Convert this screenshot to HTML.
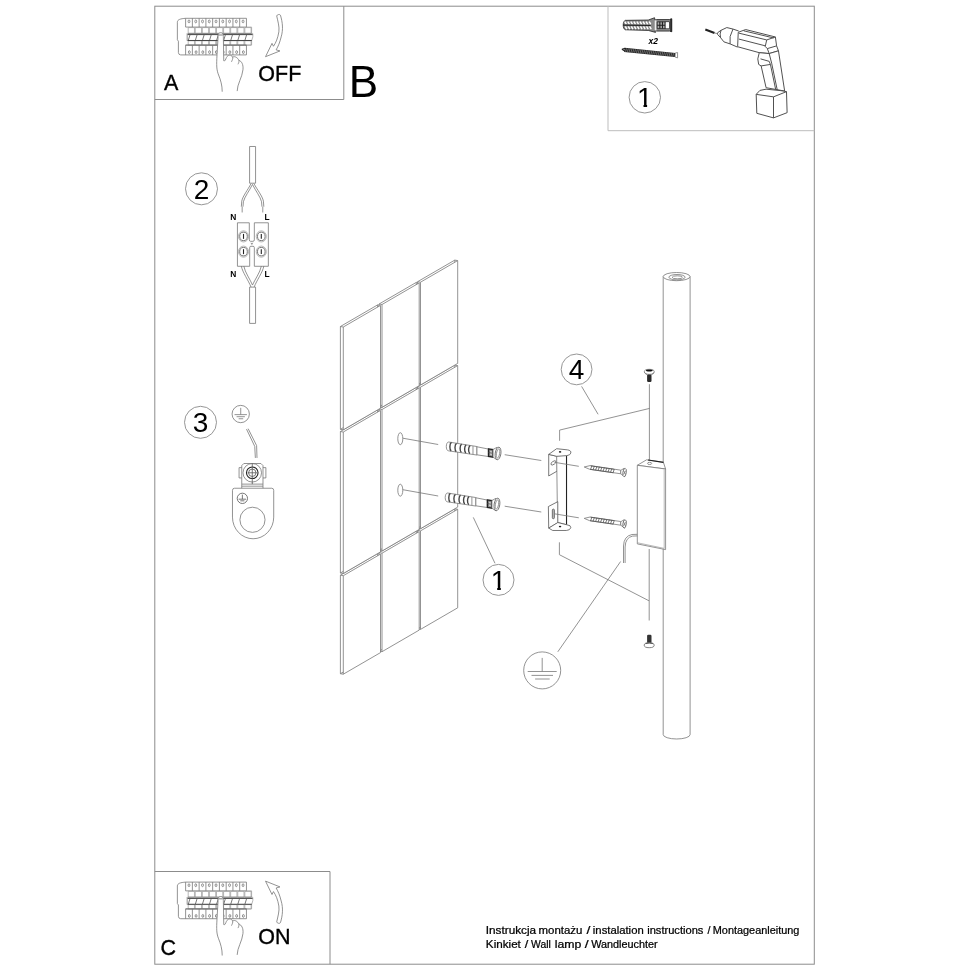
<!DOCTYPE html>
<html><head><meta charset="utf-8"><title>Instrukcja</title>
<style>
html,body{margin:0;padding:0;background:#fff}
svg{display:block;will-change:transform}
text{font-family:"Liberation Sans",Arial,Helvetica,sans-serif;fill:#000}
.b{stroke:#000;stroke-width:.35}
.ft{stroke:#000;stroke-width:.22}
.f{fill:none;stroke:#8c8c8c;stroke-width:1}
.f2{fill:none;stroke:#bdbdbd;stroke-width:1}
.c{fill:none;stroke:#8a8a8a;stroke-width:.9}
.m{fill:none;stroke:#777;stroke-width:.8;vector-effect:non-scaling-stroke}
.t{fill:none;stroke:#999;stroke-width:.7;vector-effect:non-scaling-stroke}
.d{fill:none;stroke:#555;stroke-width:.8;vector-effect:non-scaling-stroke}
.dd{fill:none;stroke:#484848;stroke-width:.95;vector-effect:non-scaling-stroke;stroke-linejoin:round}
.k{fill:none;stroke:#222;stroke-width:1.1;vector-effect:non-scaling-stroke}
.tl{fill:none;stroke:#777;stroke-width:.8;stroke-linejoin:round}
</style></head><body>
<svg width="970" height="971" viewBox="0 0 970 971">
<rect width="970" height="971" fill="#fff"/>
<rect class="f" x="154.8" y="6.2" width="659.5" height="958"/>
<path class="f" d="M154.8,99.5 L343.8,99.5 L343.8,6.2"/>
<path class="f2" d="M608,6.2 L608,130.7 L814.3,130.7"/>
<path class="f" d="M154.8,871.5 L330,871.5 L330,964.2"/>
<g transform="translate(165,8) scale(0.103093) "><path class="m" d="M200,100 C150,104 120,112 120,138 L120,308 L130,322 L130,432 Q132,455 152,455 L790,455"/><path class="m" d="M200,100 L790,100 L790,185 M200,100 L200,185 L790,185"/><path class="m" d="M265.6,100 L265.6,185"/><path class="m" d="M331.1,100 L331.1,185"/><path class="m" d="M396.7,100 L396.7,185"/><path class="m" d="M462.2,100 L462.2,185"/><path class="m" d="M527.8,100 L527.8,185"/><path class="m" d="M593.3,100 L593.3,185"/><path class="m" d="M658.9,100 L658.9,185"/><path class="m" d="M724.4,100 L724.4,185"/><ellipse class="m" cx="232.8" cy="130" rx="9" ry="14"/><ellipse class="m" cx="235.8" cy="428" rx="9" ry="14"/><ellipse class="m" cx="298.3" cy="130" rx="9" ry="14"/><ellipse class="m" cx="301.3" cy="428" rx="9" ry="14"/><ellipse class="m" cx="363.9" cy="130" rx="9" ry="14"/><ellipse class="m" cx="366.9" cy="428" rx="9" ry="14"/><ellipse class="m" cx="429.4" cy="130" rx="9" ry="14"/><ellipse class="m" cx="432.4" cy="428" rx="9" ry="14"/><ellipse class="m" cx="495.0" cy="130" rx="9" ry="14"/><ellipse class="m" cx="498.0" cy="428" rx="9" ry="14"/><ellipse class="m" cx="560.6" cy="130" rx="9" ry="14"/><ellipse class="m" cx="563.6" cy="428" rx="9" ry="14"/><ellipse class="m" cx="626.1" cy="130" rx="9" ry="14"/><ellipse class="m" cx="629.1" cy="428" rx="9" ry="14"/><ellipse class="m" cx="691.7" cy="130" rx="9" ry="14"/><ellipse class="m" cx="694.7" cy="428" rx="9" ry="14"/><ellipse class="m" cx="757.2" cy="130" rx="9" ry="14"/><ellipse class="m" cx="760.2" cy="428" rx="9" ry="14"/><rect class="t" x="225.0" y="190" width="60.7" height="55"/><rect class="t" x="225.0" y="318" width="60.7" height="42"/><path class="d" d="M242.0,262 L226.0,313"/><rect class="t" x="293.7" y="190" width="60.7" height="55"/><rect class="t" x="293.7" y="318" width="60.7" height="42"/><path class="d" d="M310.7,262 L294.7,313"/><rect class="t" x="362.3" y="190" width="60.7" height="55"/><rect class="t" x="362.3" y="318" width="60.7" height="42"/><path class="d" d="M379.3,262 L363.3,313"/><rect class="t" x="431.0" y="190" width="60.7" height="55"/><rect class="t" x="431.0" y="318" width="60.7" height="42"/><path class="d" d="M448.0,262 L432.0,313"/><rect class="t" x="499.7" y="190" width="60.7" height="55"/><rect class="t" x="499.7" y="318" width="60.7" height="42"/><path class="d" d="M516.7,262 L500.7,313"/><rect class="t" x="568.3" y="190" width="60.7" height="55"/><rect class="t" x="568.3" y="318" width="60.7" height="42"/><path class="d" d="M585.3,262 L569.3,313"/><rect class="t" x="637.0" y="190" width="60.7" height="55"/><rect class="t" x="637.0" y="318" width="60.7" height="42"/><path class="d" d="M654.0,262 L638.0,313"/><rect class="t" x="705.7" y="190" width="60.7" height="55"/><rect class="t" x="705.7" y="318" width="60.7" height="42"/><path class="d" d="M722.7,262 L706.7,313"/><rect class="t" x="774.3" y="190" width="60.7" height="55"/><rect class="t" x="774.3" y="318" width="60.7" height="42"/><path class="d" d="M791.3,262 L775.3,313"/><path class="t" d="M790,185 L840,185 L840,245 L852,248 L852,280 L840,318 L840,360 L790,360"/><path class="d" style="stroke:#444;stroke-width:1" d="M218,258 L850,258 M218,315 L842,315"/><path class="d" d="M200,360 L790,360"/><path class="m" d="M215,245 L215,318 M222,247 L842,247"/><path class="m" d="M200,360 L790,360 L790,455 M200,360 L200,455"/><path class="m" d="M265.6,360 L265.6,455"/><path class="m" d="M331.1,360 L331.1,455"/><path class="m" d="M396.7,360 L396.7,455"/><path class="m" d="M462.2,360 L462.2,455"/><path class="m" d="M527.8,360 L527.8,455"/><path class="m" d="M593.3,360 L593.3,455"/><path class="m" d="M658.9,360 L658.9,455"/><path class="m" d="M724.4,360 L724.4,455"/><path style="fill:#fff;stroke:none" d="M515,278 C512,250 525,240 540,240 C555,240 568,250 566,278 L570,512 C582,520 588,498 596,480 C610,452 642,450 656,476 C680,464 706,484 716,506 C742,516 762,546 756,600 C750,670 700,740 700,806 L555,812 C555,750 540,700 520,650 C500,600 498,560 505,450 Z"/><path class="m" d="M515,278 C512,250 525,240 540,240 C555,240 568,250 566,278 L570,512"/><path class="m" d="M515,278 L505,450 C498,560 500,600 520,650 C540,700 555,750 555,812"/><path class="m" d="M570,512 C582,520 588,498 596,480 C610,452 642,450 656,476 C662,488 650,510 645,522"/><path class="m" d="M656,476 C680,464 706,484 716,506 C722,520 712,536 708,546"/><path class="m" d="M716,506 C742,516 762,546 756,600 C750,670 700,740 700,806"/><path class="d" d="M520,262 L560,262"/></g>

<g transform="translate(250,8) scale(0.072166) "><path class="m" d="M370,110 C375,88 415,84 422,100 C452,200 462,300 432,400 C412,480 392,530 362,580 L415,595 L215,675 L305,490 L325,530 C360,480 385,420 400,330 C410,260 385,180 370,110 Z"/></g>

<text x="164.1" y="90.2" font-size="21.5" class="b">A</text>
<text x="258.3" y="80.7" font-size="21.5" class="b">OFF</text>
<text x="348.7" y="96.9" font-size="44">B</text>
<g transform="translate(165,871.8) scale(0.103093) "><path class="m" d="M200,100 C150,104 120,112 120,138 L120,308 L130,322 L130,432 Q132,455 152,455 L790,455"/><path class="m" d="M200,100 L790,100 L790,185 M200,100 L200,185 L790,185"/><path class="m" d="M265.6,100 L265.6,185"/><path class="m" d="M331.1,100 L331.1,185"/><path class="m" d="M396.7,100 L396.7,185"/><path class="m" d="M462.2,100 L462.2,185"/><path class="m" d="M527.8,100 L527.8,185"/><path class="m" d="M593.3,100 L593.3,185"/><path class="m" d="M658.9,100 L658.9,185"/><path class="m" d="M724.4,100 L724.4,185"/><ellipse class="m" cx="232.8" cy="130" rx="9" ry="14"/><ellipse class="m" cx="235.8" cy="428" rx="9" ry="14"/><ellipse class="m" cx="298.3" cy="130" rx="9" ry="14"/><ellipse class="m" cx="301.3" cy="428" rx="9" ry="14"/><ellipse class="m" cx="363.9" cy="130" rx="9" ry="14"/><ellipse class="m" cx="366.9" cy="428" rx="9" ry="14"/><ellipse class="m" cx="429.4" cy="130" rx="9" ry="14"/><ellipse class="m" cx="432.4" cy="428" rx="9" ry="14"/><ellipse class="m" cx="495.0" cy="130" rx="9" ry="14"/><ellipse class="m" cx="498.0" cy="428" rx="9" ry="14"/><ellipse class="m" cx="560.6" cy="130" rx="9" ry="14"/><ellipse class="m" cx="563.6" cy="428" rx="9" ry="14"/><ellipse class="m" cx="626.1" cy="130" rx="9" ry="14"/><ellipse class="m" cx="629.1" cy="428" rx="9" ry="14"/><ellipse class="m" cx="691.7" cy="130" rx="9" ry="14"/><ellipse class="m" cx="694.7" cy="428" rx="9" ry="14"/><ellipse class="m" cx="757.2" cy="130" rx="9" ry="14"/><ellipse class="m" cx="760.2" cy="428" rx="9" ry="14"/><rect class="t" x="225.0" y="190" width="60.7" height="55"/><rect class="t" x="225.0" y="318" width="60.7" height="42"/><path class="d" d="M242.0,262 L226.0,313"/><rect class="t" x="293.7" y="190" width="60.7" height="55"/><rect class="t" x="293.7" y="318" width="60.7" height="42"/><path class="d" d="M310.7,262 L294.7,313"/><rect class="t" x="362.3" y="190" width="60.7" height="55"/><rect class="t" x="362.3" y="318" width="60.7" height="42"/><path class="d" d="M379.3,262 L363.3,313"/><rect class="t" x="431.0" y="190" width="60.7" height="55"/><rect class="t" x="431.0" y="318" width="60.7" height="42"/><path class="d" d="M448.0,262 L432.0,313"/><rect class="t" x="499.7" y="190" width="60.7" height="55"/><rect class="t" x="499.7" y="318" width="60.7" height="42"/><path class="d" d="M516.7,262 L500.7,313"/><rect class="t" x="568.3" y="190" width="60.7" height="55"/><rect class="t" x="568.3" y="318" width="60.7" height="42"/><path class="d" d="M585.3,262 L569.3,313"/><rect class="t" x="637.0" y="190" width="60.7" height="55"/><rect class="t" x="637.0" y="318" width="60.7" height="42"/><path class="d" d="M654.0,262 L638.0,313"/><rect class="t" x="705.7" y="190" width="60.7" height="55"/><rect class="t" x="705.7" y="318" width="60.7" height="42"/><path class="d" d="M722.7,262 L706.7,313"/><rect class="t" x="774.3" y="190" width="60.7" height="55"/><rect class="t" x="774.3" y="318" width="60.7" height="42"/><path class="d" d="M791.3,262 L775.3,313"/><path class="t" d="M790,185 L840,185 L840,245 L852,248 L852,280 L840,318 L840,360 L790,360"/><path class="d" style="stroke:#444;stroke-width:1" d="M218,258 L850,258 M218,315 L842,315"/><path class="d" d="M200,360 L790,360"/><path class="m" d="M215,245 L215,318 M222,247 L842,247"/><path class="m" d="M200,360 L790,360 L790,455 M200,360 L200,455"/><path class="m" d="M265.6,360 L265.6,455"/><path class="m" d="M331.1,360 L331.1,455"/><path class="m" d="M396.7,360 L396.7,455"/><path class="m" d="M462.2,360 L462.2,455"/><path class="m" d="M527.8,360 L527.8,455"/><path class="m" d="M593.3,360 L593.3,455"/><path class="m" d="M658.9,360 L658.9,455"/><path class="m" d="M724.4,360 L724.4,455"/><path style="fill:#fff;stroke:none" d="M515,278 C512,250 525,240 540,240 C555,240 568,250 566,278 L570,512 C582,520 588,498 596,480 C610,452 642,450 656,476 C680,464 706,484 716,506 C742,516 762,546 756,600 C750,670 700,740 700,806 L555,812 C555,750 540,700 520,650 C500,600 498,560 505,450 Z"/><path class="m" d="M515,278 C512,250 525,240 540,240 C555,240 568,250 566,278 L570,512"/><path class="m" d="M515,278 L505,450 C498,560 500,600 520,650 C540,700 555,750 555,812"/><path class="m" d="M570,512 C582,520 588,498 596,480 C610,452 642,450 656,476 C662,488 650,510 645,522"/><path class="m" d="M656,476 C680,464 706,484 716,506 C722,520 712,536 708,546"/><path class="m" d="M716,506 C742,516 762,546 756,600 C750,670 700,740 700,806"/><path class="d" d="M520,262 L560,262"/></g>

<g transform="translate(250,875) scale(0.072166) translate(0,760) scale(1,-1)"><path class="m" d="M370,110 C375,88 415,84 422,100 C452,200 462,300 432,400 C412,480 392,530 362,580 L415,595 L215,675 L305,490 L325,530 C360,480 385,420 400,330 C410,260 385,180 370,110 Z"/></g>

<text x="160.6" y="954.9" font-size="21.5" class="b">C</text>
<text x="258.3" y="944.3" font-size="21.5" class="b">ON</text>
<text y="933.7" font-size="10" class="ft"><tspan x="485.76" textLength="50.37" lengthAdjust="spacingAndGlyphs">Instrukcja</tspan> <tspan x="538.54" textLength="43.81" lengthAdjust="spacingAndGlyphs">montażu</tspan> <tspan x="586.55" textLength="3.85" lengthAdjust="spacingAndGlyphs">/</tspan> <tspan x="592.87" textLength="50.83" lengthAdjust="spacingAndGlyphs">instalation</tspan> <tspan x="647.20" textLength="56.20" lengthAdjust="spacingAndGlyphs">instructions</tspan> <tspan x="707.50" textLength="2.95" lengthAdjust="spacingAndGlyphs">/</tspan> <tspan x="712.80" textLength="86.60" lengthAdjust="spacingAndGlyphs">Montageanleitung</tspan></text>
<text y="948.4" font-size="10" class="ft"><tspan x="485.86" textLength="35.00" lengthAdjust="spacingAndGlyphs">Kinkiet</tspan> <tspan x="524.70" textLength="3.50" lengthAdjust="spacingAndGlyphs">/</tspan> <tspan x="531.07" textLength="19.73" lengthAdjust="spacingAndGlyphs">Wall</tspan> <tspan x="554.66" textLength="26.61" lengthAdjust="spacingAndGlyphs">lamp</tspan> <tspan x="584.80" textLength="3.86" lengthAdjust="spacingAndGlyphs">/</tspan> <tspan x="591.20" textLength="66.50" lengthAdjust="spacingAndGlyphs">Wandleuchter</tspan></text>
<g transform="translate(612,8) scale(0.082474) "><path style="fill:#8a8a8a;stroke:#222" class="m" d="M160,150 C128,165 128,250 160,264 L440,272 L528,296 L520,276 L541,280 L700,280 L725,288 L725,130 L700,140 L541,140 L520,146 L516,118 L440,146 Z"/><path style="stroke:#fff;stroke-width:1.5;fill:none;vector-effect:non-scaling-stroke;stroke-linecap:round" d="M158,170 L170,190 M164,230 L176,250"/><path style="stroke:#fff;stroke-width:1.5;fill:none;vector-effect:non-scaling-stroke;stroke-linecap:round" d="M195,170 L207,190 M201,230 L213,250"/><path style="stroke:#fff;stroke-width:1.5;fill:none;vector-effect:non-scaling-stroke;stroke-linecap:round" d="M232,170 L244,190 M238,230 L250,250"/><path style="stroke:#fff;stroke-width:1.5;fill:none;vector-effect:non-scaling-stroke;stroke-linecap:round" d="M269,170 L281,190 M275,230 L287,250"/><path style="stroke:#fff;stroke-width:1.5;fill:none;vector-effect:non-scaling-stroke;stroke-linecap:round" d="M306,170 L318,190 M312,230 L324,250"/><path style="stroke:#fff;stroke-width:1.5;fill:none;vector-effect:non-scaling-stroke;stroke-linecap:round" d="M343,170 L355,190 M349,230 L361,250"/><path style="stroke:#fff;stroke-width:1.5;fill:none;vector-effect:non-scaling-stroke;stroke-linecap:round" d="M380,170 L392,190 M386,230 L398,250"/><path style="stroke:#fff;stroke-width:1.5;fill:none;vector-effect:non-scaling-stroke;stroke-linecap:round" d="M417,170 L429,190 M423,230 L435,250"/><path style="stroke:#fff;stroke-width:1.5;fill:none;vector-effect:non-scaling-stroke;stroke-linecap:round" d="M454,170 L466,190 M460,230 L472,250"/><path class="k" d="M135,208 L470,212"/><rect x="518" y="150" width="20" height="122" style="fill:#eee;stroke:none"/><rect x="548" y="168" width="148" height="82" style="fill:#aaa;stroke:#222" class="m"/><path class="k" d="M580,168 L580,250 M612,168 L612,250 M644,168 L644,250 M548,209 L650,209"/><rect x="652" y="172" width="40" height="74" style="fill:#fff;stroke:none"/><path style="stroke:#222;stroke-width:1.6;fill:none;vector-effect:non-scaling-stroke" d="M716,130 L716,288"/></g>

<text x="653.2" y="44.4" font-size="8.5" font-weight="bold" font-style="italic" text-anchor="middle">x2</text>
<g transform="translate(612,8) scale(0.082474) "><path style="stroke:#222;stroke-width:4.2;fill:none;vector-effect:non-scaling-stroke" d="M150,507 L765,570"/><path class="k" d="M120,500 L160,488 M120,500 L155,522"/><path class="m" style="fill:#fff" d="M768,545 L795,540 L795,605 L765,595 Z"/><path style="stroke:#bbb;stroke-width:.5;fill:none;vector-effect:non-scaling-stroke" d="M176,490 L164,530"/><path style="stroke:#bbb;stroke-width:.5;fill:none;vector-effect:non-scaling-stroke" d="M198,492 L186,532"/><path style="stroke:#bbb;stroke-width:.5;fill:none;vector-effect:non-scaling-stroke" d="M220,494 L208,534"/><path style="stroke:#bbb;stroke-width:.5;fill:none;vector-effect:non-scaling-stroke" d="M242,497 L230,537"/><path style="stroke:#bbb;stroke-width:.5;fill:none;vector-effect:non-scaling-stroke" d="M264,499 L252,539"/><path style="stroke:#bbb;stroke-width:.5;fill:none;vector-effect:non-scaling-stroke" d="M286,501 L274,541"/><path style="stroke:#bbb;stroke-width:.5;fill:none;vector-effect:non-scaling-stroke" d="M308,503 L296,543"/><path style="stroke:#bbb;stroke-width:.5;fill:none;vector-effect:non-scaling-stroke" d="M330,505 L318,545"/><path style="stroke:#bbb;stroke-width:.5;fill:none;vector-effect:non-scaling-stroke" d="M352,508 L340,548"/><path style="stroke:#bbb;stroke-width:.5;fill:none;vector-effect:non-scaling-stroke" d="M374,510 L362,550"/><path style="stroke:#bbb;stroke-width:.5;fill:none;vector-effect:non-scaling-stroke" d="M396,512 L384,552"/><path style="stroke:#bbb;stroke-width:.5;fill:none;vector-effect:non-scaling-stroke" d="M418,514 L406,554"/><path style="stroke:#bbb;stroke-width:.5;fill:none;vector-effect:non-scaling-stroke" d="M440,516 L428,556"/><path style="stroke:#bbb;stroke-width:.5;fill:none;vector-effect:non-scaling-stroke" d="M462,519 L450,559"/><path style="stroke:#bbb;stroke-width:.5;fill:none;vector-effect:non-scaling-stroke" d="M484,521 L472,561"/><path style="stroke:#bbb;stroke-width:.5;fill:none;vector-effect:non-scaling-stroke" d="M506,523 L494,563"/><path style="stroke:#bbb;stroke-width:.5;fill:none;vector-effect:non-scaling-stroke" d="M528,525 L516,565"/><path style="stroke:#bbb;stroke-width:.5;fill:none;vector-effect:non-scaling-stroke" d="M550,527 L538,567"/><path style="stroke:#bbb;stroke-width:.5;fill:none;vector-effect:non-scaling-stroke" d="M572,530 L560,570"/><path style="stroke:#bbb;stroke-width:.5;fill:none;vector-effect:non-scaling-stroke" d="M594,532 L582,572"/><path style="stroke:#bbb;stroke-width:.5;fill:none;vector-effect:non-scaling-stroke" d="M616,534 L604,574"/><path style="stroke:#bbb;stroke-width:.5;fill:none;vector-effect:non-scaling-stroke" d="M638,536 L626,576"/><path style="stroke:#bbb;stroke-width:.5;fill:none;vector-effect:non-scaling-stroke" d="M660,538 L648,578"/><path style="stroke:#bbb;stroke-width:.5;fill:none;vector-effect:non-scaling-stroke" d="M682,541 L670,581"/><path style="stroke:#bbb;stroke-width:.5;fill:none;vector-effect:non-scaling-stroke" d="M704,543 L692,583"/><path style="stroke:#bbb;stroke-width:.5;fill:none;vector-effect:non-scaling-stroke" d="M726,545 L714,585"/><path style="stroke:#bbb;stroke-width:.5;fill:none;vector-effect:non-scaling-stroke" d="M748,547 L736,587"/></g>

<circle class="c" cx="644.8" cy="97.3" r="15.7"/>
<text x="644.8" y="107" font-size="28" text-anchor="middle">1</text>
<rect x="637.5" y="104.2" width="6" height="3.8" fill="#fff"/>
<rect x="647.1" y="104.2" width="6" height="3.8" fill="#fff"/>
<g transform="translate(690,10) scale(0.123716) "><path style="stroke:#222;stroke-width:2.1;fill:none;vector-effect:non-scaling-stroke" d="M124,157.5 L198,186"/><path class="m" d="M198,186 L224,191"/><path class="dd" d="M224,183 L251,164 L297.5,142 L347.5,154 L394,170 M224,199 L247.5,224 L274,257.5 L324,274 L384,300 M251,164 Q237,194 247.5,224 M347.5,154 Q313,214 324,274 M224,183 Q220,191 224,199"/><path class="dd" style="fill:#fff" d="M390,180 L450,158 L690,218 L700,290 L715,330 L640,352 L560,345 L385,297 Z"/><path class="dd" d="M395,187 L620,242 L690,218 M620,242 L608,295 L625,312 L640,352 M625,312 L700,290 M395,235 L610,290 M434,168 L676,226"/><path class="dd" style="fill:#fff" d="M560,345 L548,395 L555,440 L575,452 L615,628 L765,655 L715,330 L640,352 Z"/><path class="dd" d="M570,395 L640,415 L650,440 L575,452 M650,440 L692,640 M640,352 L660,430 L705,645"/><path class="dd" style="fill:#fff" d="M535,682 L565,650 L615,640 L735,652 L780,660 L785,830 L675,872 L540,835 Z"/><path class="dd" d="M535,682 L675,702 L780,660 M675,702 L675,872"/></g>

<g transform="translate(150,130) scale(0.206186) "><rect class="m" x="483" y="80" width="29" height="178"/><path class="m" d="M490,260 C475,290 450,320 445,345 L443,372 M497,264 C482,295 458,325 453,348 L451,372 M447,372 L447,400"/><path class="m" d="M504,260 C520,290 545,320 550,345 L552,372 M497,264 C512,295 536,325 541,348 L543,372 M547,372 L547,400"/><path class="m" d="M424,450 L481.6,450 L481.6,533 Q482,540 488,540 L499,540 Q506,540 506,533 L506,450 L574,450 L574,661 L506,661 L506,570 Q506,564 500,564 L489,564 Q483.5,564 483.5,570 L483.5,661 L424,661 Z"/><path class="m" d="M490,547 L494,555 L498,547"/><ellipse class="t" cx="453.5" cy="516" rx="24.5" ry="27"/><ellipse class="d" cx="453.5" cy="516" rx="18.5" ry="20.5"/><path class="k" d="M453.5,504 L453.5,528"/><ellipse class="t" cx="453.5" cy="590" rx="24.5" ry="27"/><ellipse class="d" cx="453.5" cy="590" rx="18.5" ry="20.5"/><path class="k" d="M453.5,578 L453.5,602"/><ellipse class="t" cx="539.8" cy="516" rx="24.5" ry="27"/><ellipse class="d" cx="539.8" cy="516" rx="18.5" ry="20.5"/><path class="k" d="M539.8,504 L539.8,528"/><ellipse class="t" cx="539.8" cy="590" rx="24.5" ry="27"/><ellipse class="d" cx="539.8" cy="590" rx="18.5" ry="20.5"/><path class="k" d="M539.8,578 L539.8,602"/><path class="m" d="M443,660 C448,690 478,730 490,762 M455,660 C460,690 488,728 497,752 M552,660 C547,690 517,730 505,762 M540,660 C535,690 507,728 497,752"/><rect class="m" x="483" y="762" width="29" height="176"/></g>

<circle class="c" cx="201.5" cy="188.8" r="16"/>
<text x="201.5" y="198.8" font-size="28" text-anchor="middle">2</text>
<text x="230.3" y="220.3" font-size="8.4" font-weight="bold">N</text>
<text x="264.6" y="220.3" font-size="8.4" font-weight="bold">L</text>
<text x="230.3" y="276.6" font-size="8.4" font-weight="bold">N</text>
<text x="264.6" y="276.6" font-size="8.4" font-weight="bold">L</text>
<g transform="translate(150,380) scale(0.206186) "><circle class="m" cx="440" cy="165" r="42"/><path class="m" d="M440,135 L440,168 M410,168 L470,168 M420,178 L460,178 M430,188 L452,188"/><path class="m" d="M468,238 L508,322 L511,378 M476,236 L517,318 L519,378"/><path class="m" d="M455,405 L538,405 L548,415 L548,505 L445,505 L445,415 Z M432,425 L445,425 M432,475 L445,475 M432,425 L432,475 M548,425 L562,425 L562,475 L548,475"/><circle class="m" cx="496" cy="450" r="45"/><circle class="k" cx="496" cy="450" r="28"/><circle class="d" cx="496" cy="450" r="18"/><path class="d" d="M496,405 L496,505 M474,450 L518,450"/><path class="m" d="M445,515 L548,515 M445,505 L445,525 M548,505 L548,525"/><path class="m" d="M400,535 Q400,525 410,525 L590,525 Q600,525 600,535 L600,665 A100,105 0 0 1 400,665 Z"/><circle class="m" cx="497" cy="678" r="61"/><circle class="d" cx="448" cy="574" r="25"/><path class="d" d="M448,556 L448,578 M430,578 L466,578 M438,586 L458,586"/></g>

<circle class="c" cx="200.5" cy="422.3" r="16"/>
<text x="200.5" y="432.3" font-size="28" text-anchor="middle">3</text>
<path class="tl" style="fill:#fff" d="M340.4,326.5 L377.6,304.9 L377.6,407.7 L340.4,429.3 Z"/><path class="tl" d="M340.4,326.5 L343.3,327.0 M377.6,304.9 L380.5,305.4 M340.4,429.3 L343.3,429.8"/><path class="tl" style="fill:#fff" d="M340.4,431.5 L377.6,409.9 L377.6,551.4 L340.4,573.0 Z"/><path class="tl" d="M340.4,431.5 L343.3,432.0 M377.6,409.9 L380.5,410.4 M340.4,573.0 L343.3,573.5"/><path class="tl" style="fill:#fff" d="M340.4,575.2 L377.6,553.6 L377.6,652.1 L340.4,673.7 Z"/><path class="tl" d="M340.4,575.2 L343.3,575.7 M377.6,553.6 L380.5,554.1 M340.4,673.7 L343.3,674.2"/><path class="tl" style="fill:#fff" d="M379.1,304.0 L416.3,282.4 L416.3,385.2 L379.1,406.8 Z"/><path class="tl" d="M379.1,304.0 L382.0,304.5 M416.3,282.4 L419.2,282.9 M379.1,406.8 L382.0,407.3"/><path class="tl" style="fill:#fff" d="M379.1,409.0 L416.3,387.4 L416.3,528.9 L379.1,550.5 Z"/><path class="tl" d="M379.1,409.0 L382.0,409.5 M416.3,387.4 L419.2,387.9 M379.1,550.5 L382.0,551.0"/><path class="tl" style="fill:#fff" d="M379.1,552.7 L416.3,531.1 L416.3,629.6 L379.1,651.2 Z"/><path class="tl" d="M379.1,552.7 L382.0,553.2 M416.3,531.1 L419.2,531.6 M379.1,651.2 L382.0,651.7"/><path class="tl" style="fill:#fff" d="M417.6,281.7 L454.8,260.1 L454.8,362.9 L417.6,384.5 Z"/><path class="tl" d="M417.6,281.7 L420.5,282.2 M454.8,260.1 L457.7,260.6 M417.6,384.5 L420.5,385.0"/><path class="tl" style="fill:#fff" d="M417.6,386.7 L454.8,365.1 L454.8,506.6 L417.6,528.2 Z"/><path class="tl" d="M417.6,386.7 L420.5,387.2 M454.8,365.1 L457.7,365.6 M417.6,528.2 L420.5,528.7"/><path class="tl" style="fill:#fff" d="M417.6,530.4 L454.8,508.8 L454.8,607.3 L417.6,628.9 Z"/><path class="tl" d="M417.6,530.4 L420.5,530.9 M454.8,508.8 L457.7,509.3 M417.6,628.9 L420.5,629.4"/>
<path class="tl" style="fill:#fff" d="M343.3,327.0 L380.5,305.4 L380.5,408.2 L343.3,429.8 Z"/><path class="tl" style="fill:#fff" d="M343.3,432.0 L380.5,410.4 L380.5,551.9 L343.3,573.5 Z"/><path class="tl" style="fill:#fff" d="M343.3,575.7 L380.5,554.1 L380.5,652.6 L343.3,674.2 Z"/><path class="tl" style="fill:#fff" d="M382.0,304.5 L419.2,282.9 L419.2,385.7 L382.0,407.3 Z"/><path class="tl" style="fill:#fff" d="M382.0,409.5 L419.2,387.9 L419.2,529.4 L382.0,551.0 Z"/><path class="tl" style="fill:#fff" d="M382.0,553.2 L419.2,531.6 L419.2,630.1 L382.0,651.7 Z"/><path class="tl" style="fill:#fff" d="M420.5,282.2 L457.7,260.6 L457.7,363.4 L420.5,385.0 Z"/><path class="tl" style="fill:#fff" d="M420.5,387.2 L457.7,365.6 L457.7,507.1 L420.5,528.7 Z"/><path class="tl" style="fill:#fff" d="M420.5,530.9 L457.7,509.3 L457.7,607.8 L420.5,629.4 Z"/>
<ellipse class="m" cx="400.3" cy="438.7" rx="2.5" ry="6"/>
<path class="m" d="M402.8,438.2 L438.2,444.5"/>
<path class="m" d="M504.7,454.7 L541.3,460.5"/>
<ellipse class="m" cx="400.3" cy="490.2" rx="2.5" ry="6"/>
<path class="m" d="M402.8,489.7 L438.2,496.0"/>
<path class="m" d="M504.7,506.2 L541.3,512.0"/>
<g transform="translate(435,425) scale(0.113404) "><path class="m" style="fill:#fff" d="M120,150 C94,150 92,228 120,228 L370,265 L370,190 Z"/><path class="k" style="stroke:#444;stroke-width:1.4" d="M145,154 C127,164 127,218 143,228"/><path class="k" style="stroke:#444;stroke-width:1.4" d="M190,162 C172,172 172,225 188,235"/><path class="k" style="stroke:#444;stroke-width:1.4" d="M235,169 C217,179 217,232 233,242"/><path class="k" style="stroke:#444;stroke-width:1.4" d="M275,175 C257,185 257,237 273,247"/><path class="k" style="stroke:#444;stroke-width:1.4" d="M310,181 C292,191 292,243 308,253"/><path class="m" style="fill:#fff" d="M370,192 L470,212 L470,278 L370,263 Z"/><path class="m" d="M335,186 L335,258"/><path style="fill:#8a8a8a;stroke:#222;stroke-width:1.3" class="m" d="M472,210 L512,217 L512,284 L472,277 Z"/><path style="fill:#ccc;stroke:none" d="M486,228 L502,231 L502,268 L486,265 Z"/><path class="d" d="M472,243 L512,250"/><path class="m" style="fill:#fff" d="M512,216 L548,196 L545,306 L512,284 Z"/><ellipse class="d" style="fill:#fff" cx="556" cy="251" rx="25" ry="56" transform="rotate(8 556 251)"/><ellipse class="m" cx="556" cy="251" rx="14" ry="40" transform="rotate(8 556 251)"/></g>

<g transform="translate(433.9,476) scale(0.113404) "><path class="m" style="fill:#fff" d="M120,150 C94,150 92,228 120,228 L370,265 L370,190 Z"/><path class="k" style="stroke:#444;stroke-width:1.4" d="M145,154 C127,164 127,218 143,228"/><path class="k" style="stroke:#444;stroke-width:1.4" d="M190,162 C172,172 172,225 188,235"/><path class="k" style="stroke:#444;stroke-width:1.4" d="M235,169 C217,179 217,232 233,242"/><path class="k" style="stroke:#444;stroke-width:1.4" d="M275,175 C257,185 257,237 273,247"/><path class="k" style="stroke:#444;stroke-width:1.4" d="M310,181 C292,191 292,243 308,253"/><path class="m" style="fill:#fff" d="M370,192 L470,212 L470,278 L370,263 Z"/><path class="m" d="M335,186 L335,258"/><path style="fill:#8a8a8a;stroke:#222;stroke-width:1.3" class="m" d="M472,210 L512,217 L512,284 L472,277 Z"/><path style="fill:#ccc;stroke:none" d="M486,228 L502,231 L502,268 L486,265 Z"/><path class="d" d="M472,243 L512,250"/><path class="m" style="fill:#fff" d="M512,216 L548,196 L545,306 L512,284 Z"/><ellipse class="d" style="fill:#fff" cx="556" cy="251" rx="25" ry="56" transform="rotate(8 556 251)"/><ellipse class="m" cx="556" cy="251" rx="14" ry="40" transform="rotate(8 556 251)"/></g>

<path class="m" d="M473.3,517.4 L495,563.3"/>
<circle class="c" cx="498.5" cy="579.9" r="15.5"/>
<text x="498.5" y="589.9" font-size="28" text-anchor="middle">1</text>
<rect x="491.2" y="587.1" width="6" height="3.8" fill="#fff"/>
<rect x="500.8" y="587.1" width="6" height="3.8" fill="#fff"/>
<g transform="translate(530,430) scale(0.113404) "><path class="d" style="fill:#fff" d="M165,215 L165,405 L240,362 L240,232 Z"/><ellipse class="d" cx="207" cy="290" rx="26" ry="13" transform="rotate(-35 207 290)"/><path class="m" style="fill:#fff" d="M235,228 L322,222 L322,835 L243,815 Z"/><path class="k" d="M322,222 L322,835"/><path class="d" style="fill:#fff" d="M165,215 L235,165 L330,175 Q365,180 360,203 Q355,222 325,226 L235,232 Z"/><ellipse cx="265" cy="193" rx="11" ry="7" style="fill:#222"/><path class="d" style="fill:#fff" d="M162,675 L245,632 L245,818 L165,865 Z"/><rect class="d" style="fill:#bbb" x="197" y="698" width="18" height="84" rx="8"/><path class="d" style="fill:#fff" d="M165,865 L245,816 L322,835 Q365,840 360,862 Q352,885 320,886 L200,886 Z"/><ellipse cx="265" cy="852" rx="11" ry="7" style="fill:#222"/></g>

<path class="m" d="M554.4,462.3 L578.8,466.3"/>
<path class="m" d="M554.4,513.8 L578.8,517.8"/>
<g transform="translate(530,430) scale(0.113404) "><path class="m" style="fill:#fff" d="M478,326 L530,314 L800,354 L800,386 L525,346 Z"/><path class="d" d="M546,315 L534,348"/><path class="d" d="M568,318 L556,351"/><path class="d" d="M590,322 L578,354"/><path class="d" d="M612,325 L600,357"/><path class="d" d="M634,328 L622,361"/><path class="d" d="M656,331 L644,364"/><path class="d" d="M678,335 L666,367"/><path class="d" d="M700,338 L688,370"/><path class="d" d="M722,341 L710,373"/><path class="d" d="M744,344 L732,377"/><path class="d" d="M535,316 L740,346 M530,347 L735,377"/><path class="m" style="fill:#fff" d="M800,356 L830,338 L835,412 L800,386 Z"/><ellipse class="d" style="fill:#fff" cx="834" cy="375" rx="15" ry="37" transform="rotate(8 834 375)"/><path class="m" d="M826,360 L842,392 M842,360 L826,392"/></g>

<g transform="translate(530,481.4) scale(0.113404) "><path class="m" style="fill:#fff" d="M478,326 L530,314 L800,354 L800,386 L525,346 Z"/><path class="d" d="M546,315 L534,348"/><path class="d" d="M568,318 L556,351"/><path class="d" d="M590,322 L578,354"/><path class="d" d="M612,325 L600,357"/><path class="d" d="M634,328 L622,361"/><path class="d" d="M656,331 L644,364"/><path class="d" d="M678,335 L666,367"/><path class="d" d="M700,338 L688,370"/><path class="d" d="M722,341 L710,373"/><path class="d" d="M744,344 L732,377"/><path class="d" d="M535,316 L740,346 M530,347 L735,377"/><path class="m" style="fill:#fff" d="M800,356 L830,338 L835,412 L800,386 Z"/><ellipse class="d" style="fill:#fff" cx="834" cy="375" rx="15" ry="37" transform="rotate(8 834 375)"/><path class="m" d="M826,360 L842,392 M842,360 L826,392"/></g>

<circle class="c" cx="576.6" cy="369.4" r="15.4"/>
<text x="576.6" y="379.4" font-size="28" text-anchor="middle">4</text>
<path class="m" d="M581.6,386.4 L598.1,414.3"/>
<path class="m" d="M559.6,440.8 L559.6,430.1 L649.6,408.4"/>
<path class="m" d="M559.4,542.3 L559.4,554.7 L649,600.8"/>
<path class="m" d="M649.4,384.2 L649.4,460 M649.2,549 L649.2,620.5"/>
<ellipse class="m" style="fill:#fff" cx="649.3" cy="371.8" rx="5" ry="2.5"/>
<path class="m" d="M644.6,372.6 L647.4,375 M654,372.6 L651.2,375"/>
<ellipse cx="649.3" cy="370.6" rx="3.3" ry="1" style="fill:#111"/>
<rect x="647.1" y="374.6" width="4.4" height="7.3" rx="1.2" style="fill:#2a2a2a"/>
<rect x="647.1" y="634.7" width="4.4" height="8.6" rx="1.2" style="fill:#333"/>
<ellipse class="m" style="fill:#fff;stroke:#666" cx="649.2" cy="645.2" rx="5" ry="2.5"/>
<path style="stroke:#555;stroke-width:1;fill:none" d="M645.5,643.6 Q649.2,642.4 652.9,643.6"/>
<path class="tl" style="fill:#fff" d="M663.2,276.5 L663.2,734.6 A13.45,4.4 0 0 0 690.1,734.6 L690.1,276.5"/>
<ellipse class="tl" style="fill:#fff" cx="676.6" cy="276.6" rx="13.4" ry="4.1"/>
<ellipse class="tl" cx="677" cy="277.2" rx="8.1" ry="2.7"/>
<ellipse class="tl" cx="677.3" cy="277.3" rx="5.1" ry="1.5"/>
<path class="m" style="fill:#fff" d="M637.3,465.3 L646.6,459.8 L663.4,462.3 L665.6,469 Z"/>
<path class="m" style="fill:#fff" d="M637.3,465.3 L665.6,469 L665.6,549.6 L637.3,543.9 Z"/>
<path class="t" d="M664.2,469.4 L664.2,548.4 L637.6,542.8"/>
<path class="k" d="M648,460 L663.4,462.4"/>
<ellipse class="m" cx="649.6" cy="463.4" rx="2.1" ry="1.1"/>
<path class="m" d="M637.3,534.3 L632,534.5 Q623.9,536 623.5,546 L623.5,563 M637.3,535.9 L632.5,536.1 Q625.4,537.6 625.1,547 L625.1,563"/>
<path class="m" d="M620.6,561.5 L557.8,651.8"/>
<circle class="m" cx="542.2" cy="670.4" r="18.5"/>
<path class="m" d="M542.2,657.9 L542.2,671.5 M527.7,671.5 L556.7,671.5 M531.5,675.4 L553,675.4 M535.1,679 L549.7,679"/>
</svg>
</body></html>
